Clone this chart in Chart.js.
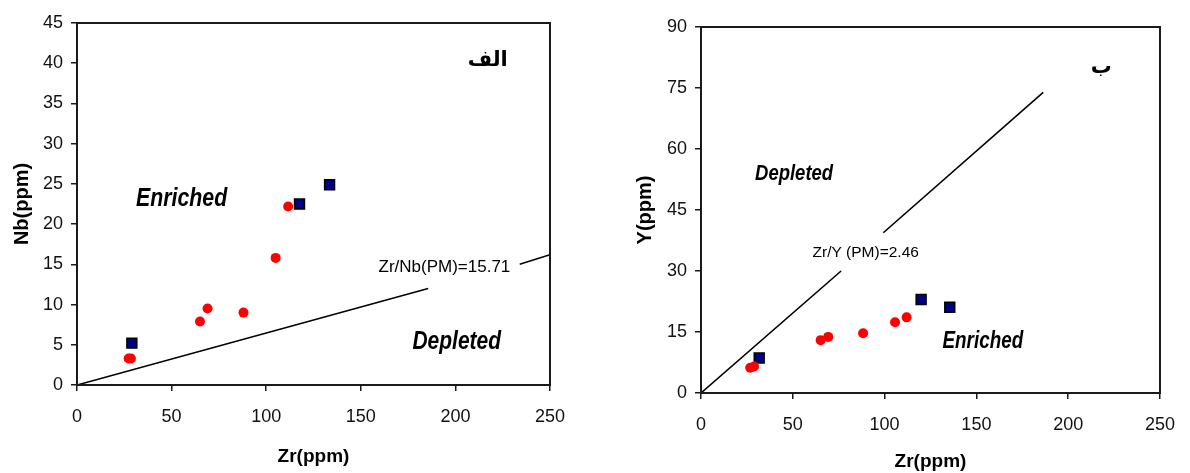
<!DOCTYPE html>
<html>
<head>
<meta charset="utf-8">
<script src="https://cdn.jsdelivr.net/npm/chart.js@4.4.1/dist/chart.umd.min.js"></script>
<style>
  html, body { margin: 0; padding: 0; background: #fff; }
  #wrap { position: relative; width: 1190px; height: 473px; overflow: hidden; }
  .box { position: absolute; top: 0; height: 473px; }
</style>
</head>
<body>
<div id="wrap">
  <div class="box" style="left:0;width:600px"><canvas id="nbChart" width="600" height="473"></canvas></div>
  <div class="box" style="left:600px;width:590px"><canvas id="yChart" width="590" height="473"></canvas></div>
</div>
<script>
// Zr vs Nb (panel alef)
var nbRedZr = [27.3, 28.5, 65, 69, 88, 105, 111.6];
var nbRedNb = [3.3, 3.3, 7.9, 9.5, 9.0, 15.8, 22.2];
var nbBlueZr = [29, 117.6, 133.5];
var nbBlueNb = [5.2, 22.5, 24.9];
// reference line Zr/Nb(PM)=15.71, broken where the label sits
var nbRefZr = [0, 185.6, null, 234, 250];
var nbRefNb = [0, 12.0, null, 15.0, 16.2];

// Zr vs Y (panel be)
var yRedZr = [26.8, 28.9, 65.2, 69.3, 88.3, 105.7, 112];
var yRedY = [6.2, 6.5, 13.0, 13.8, 14.7, 17.4, 18.6];
var yBlueZr = [31.7, 119.9, 135.5];
var yBlueY = [8.6, 23.0, 21.1];
// reference line Zr/Y(PM)=2.46
var yRefZr = [0, 76.3, null, 99.3, 186.4];
var yRefY = [0, 30.0, null, 39.4, 73.9];

var zrTicks = [0, 50, 100, 150, 200, 250];
var nbTicks = [0, 5, 10, 15, 20, 25, 30, 35, 40, 45];
var yTicks = [0, 15, 30, 45, 60, 75, 90];

var frameColour = '#1a1a1a';
var redColour = '#FF0000';
var blueColour = '#000080';
var sans = '"Liberation Sans", Arial, sans-serif';

function toPoints(xs, ys) {
    var pts = [];
    for (var i = 0; i < xs.length; i++) {
        pts.push({ x: xs[i], y: ys[i] });
    }
    return pts;
}

// labels written inside the plot, plus the closed frame round it
function makeNotes(items) {
    return {
        id: 'notes',
        afterDatasetsDraw: function(chart) {
            var ctx = chart.ctx, a = chart.chartArea;
            ctx.save();
            ctx.strokeStyle = frameColour;
            ctx.lineWidth = 2;
            ctx.strokeRect(a.left, a.top, a.right - a.left, a.bottom - a.top);
            items.forEach(function(n) {
                var px = chart.scales.x.getPixelForValue(n.x);
                var py = chart.scales.y.getPixelForValue(n.y);
                ctx.save();
                ctx.translate(px, py);
                ctx.scale(n.squeeze || 1, 1);
                ctx.font = n.font;
                ctx.fillStyle = '#000';
                ctx.textAlign = 'center';
                ctx.textBaseline = 'middle';
                ctx.fillText(n.text, 0, 0);
                ctx.restore();
            });
            ctx.restore();
        }
    };
}

function buildChart(id, cfg) {
    var xAxis = {
        type: 'linear', min: 0, max: 250,
        afterBuildTicks: function(s) { s.ticks = zrTicks.map(function(v) { return { value: v }; }); },
        afterFit: function(s) { s.height = cfg.xHeight; },
        grid: { drawOnChartArea: false, tickLength: 6, color: frameColour, lineWidth: 1.5 },
        border: { color: frameColour, width: 2 },
        ticks: { padding: 15, color: '#111', font: { family: sans, size: 18 } },
        title: { display: true, text: 'Zr(ppm)', color: '#000',
                 padding: { top: 0, bottom: cfg.xTitlePad },
                 font: { family: sans, size: 19, weight: 'bold' } }
    };
    var yAxis = {
        type: 'linear', min: 0, max: cfg.yMax,
        afterBuildTicks: function(s) { s.ticks = cfg.yTickValues.map(function(v) { return { value: v }; }); },
        afterFit: function(s) { s.width = cfg.yWidth; },
        grid: { drawOnChartArea: false, tickLength: 6, color: frameColour, lineWidth: 1.5 },
        border: { color: frameColour, width: 2 },
        ticks: { padding: 8, color: '#111', font: { family: sans, size: 18 } },
        title: { display: true, text: cfg.yTitle, color: '#000',
                 padding: { top: cfg.yTitlePad, bottom: 0 },
                 font: { family: sans, size: 20, weight: 'bold' } }
    };
    return new Chart(document.getElementById(id), {
        type: 'scatter',
        data: {
            datasets: [
                {
                    label: 'red',
                    data: toPoints(cfg.redX, cfg.redY),
                    pointStyle: 'circle',
                    pointRadius: 5,
                    backgroundColor: redColour,
                    borderWidth: 0
                },
                {
                    label: 'blue',
                    data: toPoints(cfg.blueX, cfg.blueY),
                    pointStyle: 'rect',
                    pointRadius: 7,
                    backgroundColor: blueColour,
                    borderColor: '#000',
                    borderWidth: 1.5
                },
                {
                    label: 'PM',
                    data: toPoints(cfg.refX, cfg.refY),
                    showLine: true,
                    spanGaps: false,
                    pointRadius: 0,
                    borderColor: '#000',
                    borderWidth: 1.6,
                    fill: false
                }
            ]
        },
        options: {
            responsive: false,
            animation: false,
            layout: { padding: cfg.padding },
            plugins: { legend: { display: false }, tooltip: { enabled: false } },
            scales: { x: xAxis, y: yAxis }
        },
        plugins: [makeNotes(cfg.notes)]
    });
}

var nbChart = buildChart('nbChart', {
    redX: nbRedZr, redY: nbRedNb, blueX: nbBlueZr, blueY: nbBlueNb,
    refX: nbRefZr, refY: nbRefNb,
    yMax: 45, yTickValues: nbTicks, yTitle: 'Nb(ppm)',
    padding: { left: 0, right: 50, top: 23, bottom: 0 },
    yWidth: 77, xHeight: 88, xTitlePad: 5, yTitlePad: 10,
    notes: [
        { text: 'Enriched', x: 55.3, y: 23.1, squeeze: 0.82, font: 'italic bold 26px ' + sans },
        { text: 'Depleted', x: 200.7, y: 5.3, squeeze: 0.84, font: 'italic bold 25px ' + sans },
        { text: 'Zr/Nb(PM)=15.71', x: 194.2, y: 14.6, font: '17px ' + sans },
        { text: 'الف', x: 217.1, y: 40.3, font: 'bold 21px "DejaVu Sans", sans-serif' }
    ]
});

var yChart = buildChart('yChart', {
    redX: yRedZr, redY: yRedY, blueX: yBlueZr, blueY: yBlueY,
    refX: yRefZr, refY: yRefY,
    yMax: 90, yTickValues: yTicks, yTitle: 'Y(ppm)',
    padding: { left: 0, right: 20, top: 27, bottom: 0 },
    yWidth: 101, xHeight: 80, xTitlePad: 0, yTitlePad: 33,
    notes: [
        { text: 'Depleted', x: 50.7, y: 53.8, squeeze: 0.84, font: 'italic bold 22px ' + sans },
        { text: 'Enriched', x: 153.5, y: 12.6, squeeze: 0.82, font: 'italic bold 23px ' + sans },
        { text: 'Zr/Y (PM)=2.46', x: 89.7, y: 34.5, font: '15.5px ' + sans },
        { text: 'ب', x: 218, y: 80.0, font: 'bold 21px "DejaVu Sans", sans-serif' }
    ]
});
</script>
</body>
</html>
